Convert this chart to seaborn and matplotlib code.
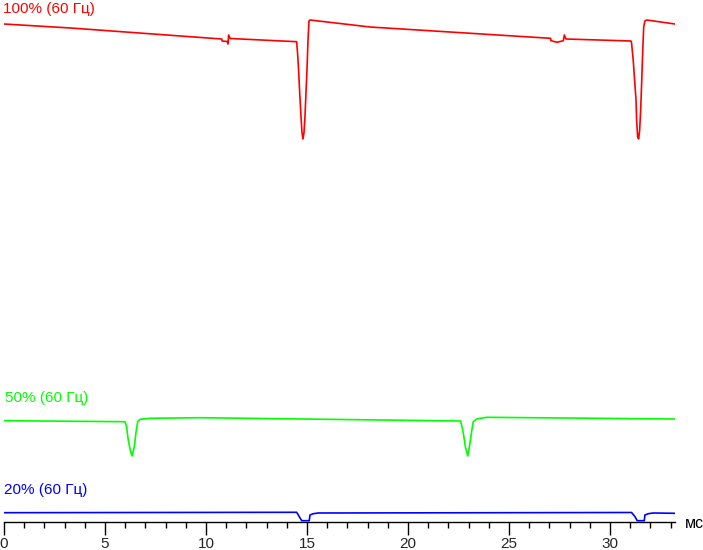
"""Oscilloscope-style brightness traces at 100/50/20 % (60 Hz)."""
import matplotlib
matplotlib.use("Agg")
import matplotlib.pyplot as plt
import pandas as pd
import seaborn as sns
from matplotlib.ticker import MultipleLocator

# time in ms, brightness level in arbitrary units
t_red = [0.00, 3.30, 10.78, 10.80, 11.05, 11.09, 11.12, 11.20, 14.49, 14.54,
         14.59, 14.64, 14.70, 14.75, 14.80, 14.85, 14.90, 14.95, 15.00, 15.05,
         15.10, 15.15, 18.12, 27.06, 27.08, 27.38, 27.69, 27.74, 27.82, 31.04,
         31.07, 31.15, 31.22, 31.29, 31.32, 31.37, 31.42, 31.47, 31.52, 31.57,
         31.62, 31.67, 31.73, 31.82, 33.22]
lvl_red = [526, 522, 511, 509, 508.5, 506, 515, 511.5, 508.3, 495,
           478, 457, 435, 418, 411, 417, 433, 457, 480, 510,
           529, 530, 523, 511.7, 509.3, 507.7, 509.3, 515, 511, 509,
           507, 490, 470, 450, 430, 413, 411, 420, 440, 468,
           498, 523, 529, 530, 526]

t_green = [0.00, 5.99, 6.07, 6.15, 6.27, 6.34, 6.45, 6.53, 6.62, 6.73,
           7.23, 9.70, 22.61, 22.74, 22.84, 22.96, 23.07, 23.15, 23.23, 23.40,
           23.90, 33.22]
lvl_green = [129.3, 128.3, 123.3, 110, 98.3, 94, 103.3, 117, 128.3, 130.7,
             131.7, 132.3, 129, 117, 103.3, 94, 107, 118.3, 128.3, 131,
             132.7, 131]

t_blue = [0.00, 14.49, 14.62, 14.74, 15.11, 15.15, 15.31, 15.56, 31.07, 31.24,
          31.35, 31.70, 31.73, 31.90, 32.14, 33.22]
lvl_blue = [37.3, 37.7, 33.3, 29.3, 29.3, 35, 36.3, 37, 37.5, 33.3,
            29.3, 29.3, 35, 36.3, 37, 36.7]

labels = ["100% (60 Гц)", "50% (60 Гц)", "20% (60 Гц)"]
colors = ["#ff0000", "#00ff00", "#0000ff"]

sns.set_style("white")
plt.rcParams["font.family"] = ["Liberation Sans", "DejaVu Sans"]

fig = plt.figure(figsize=(7.03, 5.5), dpi=100)
ax = fig.add_axes([4 / 703, (550 - 522.3) / 550, 671 / 703, 522.3 / 550])

traces = [(t_red, lvl_red), (t_green, lvl_green), (t_blue, lvl_blue)]
for (t, lvl), col in zip(traces, colors):
    df = pd.DataFrame({"t": t, "level": lvl})
    sns.lineplot(data=df, x="t", y="level", ax=ax, color=col,
                 linewidth=1.2, estimator=None, sort=False)

ax.set_xlim(0, 33.22)
ax.set_ylim(27.7, 550)
ax.set_xlabel("")
ax.set_ylabel("")
ax.set_yticks([])
for side in ["left", "right", "top"]:
    ax.spines[side].set_visible(False)
ax.spines["bottom"].set_color("black")
ax.spines["bottom"].set_linewidth(1.0)
ax.xaxis.set_major_locator(MultipleLocator(5))
ax.xaxis.set_minor_locator(MultipleLocator(1))
ax.tick_params(axis="x", which="major", direction="out", length=9.4,
               width=1.0, color="black", labelsize=11, pad=1.0, bottom=True)
ax.tick_params(axis="x", which="minor", direction="out", length=4.3,
               width=1.0, color="black", bottom=True)

# trace labels
fig.text(3 / 703, 1 - 2 / 550, labels[0], color=colors[0], fontsize=11,
         ha="left", va="top")
fig.text(5 / 703, 1 - 391 / 550, labels[1], color=colors[1], fontsize=11,
         ha="left", va="top")
fig.text(4 / 703, 1 - 483 / 550, labels[2], color=colors[2], fontsize=11,
         ha="left", va="top")
fig.text(685 / 703, 1 - 523 / 550, "мс", color="black", fontsize=11.5,
         ha="left", va="center")

fig.savefig("out.png", dpi=100)
